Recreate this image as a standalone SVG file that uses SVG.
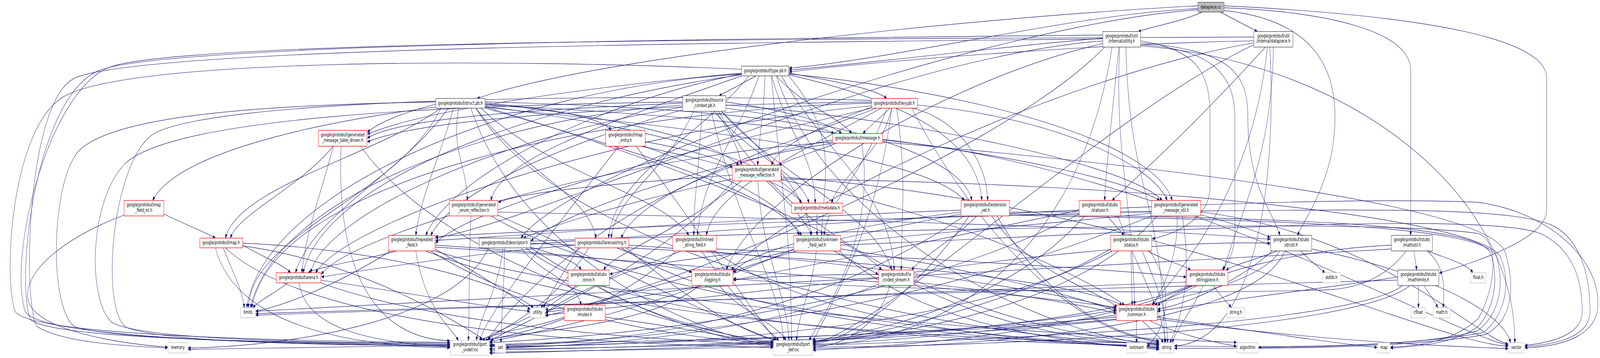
<svg xmlns="http://www.w3.org/2000/svg" width="6388" height="916" viewBox="0 0 6388 916" preserveAspectRatio="none">
<defs>
<marker id="a" viewBox="0 0 10 8" refX="10" refY="4" markerWidth="10" markerHeight="8" markerUnits="userSpaceOnUse" orient="auto"><path d="M0,0 L10,4 L0,8 z" fill="#191970" stroke="#191970" stroke-width="1"/></marker>
<style>
svg{width:100vw;height:100vh}
.e path{fill:none;stroke:#191970;stroke-width:1.15;marker-end:url(#a)}
.node rect{fill:#ffffff;stroke-width:1.3}
.r rect{stroke:#ff0000}
.b rect{stroke:#404040}
.g rect{stroke:#bfbfbf}
.cur rect{fill:#bfbfbf;stroke:#404040}
text{font-family:"DejaVu Sans","Liberation Sans",sans-serif;font-size:13px;fill:#000000;text-anchor:middle}
</style>
</defs>
<rect x="0" y="0" width="6388" height="916" fill="#ffffff"/>
<g transform="matrix(1 0 0 0.9955 0 0)">
<g id="edges" class="e">
<path d="M4800,31 C4720,55 4600,68 4545,81"/>
<path d="M4872,31 C4920,47 4970,64 5020,81"/>
<path d="M4783,22 C4300,35 3600,150 3151,175"/>
<path d="M4783,15 C4000,40 2400,140 1905,253"/>
<path d="M4783,25 C4000,60 2300,420 2080,612"/>
<path d="M4887,27 C5150,45 5330,120 5330,300 C5330,450 5230,540 5180,605"/>
<path d="M4887,20 C5300,30 5632,80 5632,180 L5632,605"/>
<path d="M4887,15 C5700,40 6175,100 6175,200 L6175,540 C6175,620 5850,680 5747,702"/>
<path d="M4403,100 C3000,110 600,120 300,200 C100,260 90,800 150,840 C250,880 500,890 669,894"/>
<path d="M4495,121 C4510,500 4640,500 4650,881"/>
<path d="M4410,121 C4000,400 2500,790 2178,802"/>
<path d="M4554,118 C5400,160 6050,500 6048,881"/>
<path d="M4470,121 C4450,400 4520,500 4530,784"/>
<path d="M4403,112 C3800,200 3000,500 2900,694"/>
<path d="M4554,115 C4850,125 4930,200 4930,300 L4930,600 C4930,650 4900,675 4880,694"/>
<path d="M4554,110 C4900,130 4982,180 4982,300 C4982,480 5080,540 5110,605"/>
<path d="M4554,105 C4800,130 4831,200 4831,300 L4831,480 C4831,560 4700,600 4600,614"/>
<path d="M4467,121 C4440,300 4420,400 4410,515"/>
<path d="M4403,98 C4000,120 3500,160 3151,180"/>
<path d="M4403,105 C3500,150 2200,560 1739,612"/>
<path d="M4440,121 C4300,700 3700,885 3246,888"/>
<path d="M4403,90 C3000,100 700,110 400,180 C150,240 60,700 120,820 C200,880 1400,880 1796,885"/>
<path d="M5070,121 C5100,500 5000,880 4689,889"/>
<path d="M5060,121 C5000,500 4700,700 4600,784"/>
<path d="M5006,110 C4200,200 3100,550 2920,694"/>
<path d="M5006,105 C4500,110 3600,150 3151,185"/>
<path d="M5052,121 C4800,300 4600,420 4440,515"/>
<path d="M5084,121 C5080,400 4950,550 4885,694"/>
<path d="M5006,115 C4400,300 3500,860 3246,882"/>
<path d="M5006,95 C3500,100 800,100 450,170 C200,220 30,650 100,800 C160,880 1400,884 1796,890"/>
<path d="M2961,190 C2000,230 1050,500 985,791"/>
<path d="M3100,195 C3300,600 4200,870 4627,886"/>
<path d="M3080,195 C3120,500 3160,600 3160,875"/>
<path d="M2961,178 C2000,150 500,150 250,250 C50,330 10,700 60,800 C120,870 1400,878 1796,880"/>
<path d="M3120,195 C3300,400 3560,500 3570,694"/>
<path d="M2961,192 C2200,260 1300,450 1210,701"/>
<path d="M2990,195 C2800,350 2450,450 2430,612"/>
<path d="M2961,188 C2400,220 1700,280 1467,345"/>
<path d="M3149,190 C3800,230 4600,350 4680,515"/>
<path d="M3030,195 C2950,350 2800,450 2785,605"/>
<path d="M3080,195 C3150,350 3250,400 3255,522"/>
<path d="M3054,195 C3050,300 3030,350 3025,425"/>
<path d="M3100,195 C3200,270 3350,300 3400,343"/>
<path d="M2961,190 C2400,260 1800,450 1700,605"/>
<path d="M3149,192 C3600,260 3900,350 3920,515"/>
<path d="M2961,195 C2500,300 2000,400 1960,515"/>
<path d="M3149,195 C3350,350 3290,450 3280,605"/>
<path d="M3149,188 C3350,210 3500,230 3540,253"/>
<path d="M3019,195 C2960,215 2920,230 2871,246"/>
<path d="M1760,278 C1600,500 1000,600 992,791"/>
<path d="M1900,278 C2300,700 4000,880 4627,884"/>
<path d="M1880,278 C2100,700 2900,880 3087,886"/>
<path d="M1740,262 C1000,270 400,300 300,400 C200,500 200,800 300,840 C500,880 1500,886 1796,886"/>
<path d="M1937,275 C2600,400 3400,600 3520,694"/>
<path d="M1790,278 C1600,450 1250,550 1180,701"/>
<path d="M1900,278 C2100,450 2350,500 2380,612"/>
<path d="M1740,268 C1600,290 1500,320 1467,340"/>
<path d="M1937,270 C3000,300 4300,400 4630,515"/>
<path d="M1920,278 C2200,450 2650,500 2750,605"/>
<path d="M1937,273 C2500,320 3100,400 3200,522"/>
<path d="M1937,268 C2400,290 2850,360 2950,425"/>
<path d="M1937,262 C2500,270 3200,300 3330,343"/>
<path d="M1810,278 C1760,400 1680,500 1660,605"/>
<path d="M1937,276 C2800,330 3700,400 3850,515"/>
<path d="M1760,278 C1500,400 950,480 900,612"/>
<path d="M1937,265 C2200,280 2400,300 2440,335"/>
<path d="M1740,275 C1200,320 700,400 610,515"/>
<path d="M1832,278 C1800,380 1860,420 1867,515"/>
<path d="M1937,278 C2600,400 3100,500 3200,605"/>
<path d="M2726,270 C2000,300 1100,500 1000,791"/>
<path d="M2870,286 C3200,700 4200,878 4627,880"/>
<path d="M2840,286 C2950,600 3100,700 3130,875"/>
<path d="M2726,262 C1800,270 700,300 500,420 C350,520 350,780 450,830 C600,880 1500,882 1796,882"/>
<path d="M2880,286 C3100,450 3500,550 3560,694"/>
<path d="M2726,275 C2000,350 1300,550 1240,701"/>
<path d="M2770,286 C2650,450 2460,500 2440,612"/>
<path d="M2726,265 C2200,280 1600,300 1467,355"/>
<path d="M2898,270 C3600,300 4500,420 4640,515"/>
<path d="M2802,286 C2790,450 2770,500 2770,605"/>
<path d="M2850,286 C3000,400 3200,450 3230,522"/>
<path d="M2860,286 C2920,350 2950,380 2960,425"/>
<path d="M2898,262 C3100,280 3300,310 3360,343"/>
<path d="M2726,282 C2200,380 1800,500 1720,605"/>
<path d="M2898,278 C3500,330 3850,420 3880,515"/>
<path d="M2880,286 C3100,420 3220,500 3240,605"/>
<path d="M3480,265 C2500,280 1100,450 1005,791"/>
<path d="M3640,278 C3900,600 4300,860 4627,878"/>
<path d="M3560,278 C3500,600 3300,800 3246,878"/>
<path d="M3480,258 C2500,240 800,250 600,350 C450,430 400,780 500,840 C650,885 1500,888 1796,888"/>
<path d="M3580,278 C3620,450 3600,550 3598,694"/>
<path d="M3480,272 C2500,330 1400,560 1260,701"/>
<path d="M3500,278 C3000,400 2550,500 2480,612"/>
<path d="M3480,262 C2600,270 1700,300 1467,365"/>
<path d="M3663,270 C4200,300 4600,420 4660,515"/>
<path d="M3520,278 C3100,420 2850,500 2820,605"/>
<path d="M3560,278 C3520,400 3350,450 3320,522"/>
<path d="M3480,275 C3250,330 3100,380 3080,425"/>
<path d="M3553,278 C3520,300 3480,320 3445,343"/>
<path d="M3480,278 C2800,380 1900,520 1739,625"/>
<path d="M3641,278 C3800,300 3940,400 3943,515"/>
<path d="M3540,278 C3450,450 3300,520 3290,605"/>
<path d="M1950,637 C1800,850 1000,894 751,894"/>
<path d="M2015,637 C2012,750 2002,800 2000,881"/>
<path d="M2100,637 C2500,860 4200,884 4627,888"/>
<path d="M2118,628 C3500,560 5200,500 5900,520 C6150,540 6380,650 6380,780 C6380,860 6250,890 6088,894"/>
<path d="M2118,620 C3500,590 5500,560 5900,600 C6000,620 5960,760 5900,820 C5800,880 5650,890 5552,892"/>
<path d="M2118,625 C3000,650 4200,700 4480,784"/>
<path d="M2080,637 C2150,700 2300,720 2320,784"/>
<path d="M2118,635 C2200,650 2300,670 2320,694"/>
<path d="M2118,637 C2500,800 2900,880 3087,890"/>
<path d="M2008,637 C1990,750 1920,800 1902,875"/>
<path d="M5193,645 C5230,670 5260,685 5290,701"/>
<path d="M5237,640 C5700,700 6000,800 6031,881"/>
<path d="M5080,645 C4950,720 4750,780 4622,795"/>
<path d="M5100,645 C5000,670 4930,680 4895,694"/>
<path d="M5130,645 C5000,850 3800,894 3246,896"/>
<path d="M5110,645 C4900,870 2500,893 1955,900"/>
<path d="M5700,645 C5800,670 5860,680 5880,701"/>
<path d="M5698,645 C5760,680 5770,720 5762,791"/>
<path d="M5555,640 C4000,700 1500,780 1021,800"/>
<path d="M5555,630 C5200,640 4800,700 4622,785"/>
<path d="M5614,645 C5550,700 5450,740 5300,745 C4500,760 3300,740 2928,716"/>
<path d="M5645,645 C5650,670 5655,680 5655,694"/>
<path d="M5663,734 C5663,755 5663,770 5663,791"/>
<path d="M5685,734 C5710,760 5730,775 5740,791"/>
<path d="M5581,720 C4000,750 1500,790 1021,806"/>
<path d="M5581,712 C5300,740 4900,770 4622,800"/>
<path d="M5630,734 C5400,850 4000,890 3246,892"/>
<path d="M5600,734 C5300,880 2500,900 1955,905"/>
<path d="M4590,824 C4700,860 4850,880 4937,890"/>
<path d="M4538,824 C4538,845 4538,860 4538,881"/>
<path d="M4620,815 C5000,850 5300,880 5498,893"/>
<path d="M4457,820 C3500,880 1200,892 751,898"/>
<path d="M4457,815 C3500,870 2300,885 2021,893"/>
<path d="M4560,824 C4600,850 4630,865 4645,881"/>
<path d="M4620,820 C5300,880 5800,890 6021,896"/>
<path d="M4457,810 C4000,850 3500,880 3246,885"/>
<path d="M4457,822 C3500,885 2400,895 1955,897"/>
<path d="M2872,734 C2950,800 3100,830 3138,875"/>
<path d="M2790,734 C2600,840 2100,850 1935,875"/>
<path d="M2310,734 C2250,760 2180,770 2160,791"/>
<path d="M2384,734 C2600,820 2950,870 3087,882"/>
<path d="M2300,734 C2150,820 2000,840 1925,875"/>
<path d="M2416,815 C2700,840 2950,870 3087,888"/>
<path d="M2253,815 C2150,840 2000,850 1915,875"/>
<path d="M4590,645 C4700,750 4650,850 4580,890"/>
<path d="M4560,645 C4640,760 4660,820 4662,881"/>
<path d="M4516,645 C4516,700 4520,740 4520,784"/>
<path d="M4582,645 C4650,670 4720,680 4754,694"/>
<path d="M4434,640 C4000,800 3400,870 3246,880"/>
<path d="M4440,645 C3800,870 2500,890 1955,890"/>
<path d="M4421,555 C4445,575 4470,590 4488,605"/>
<path d="M4330,555 C4000,800 3400,860 3246,878"/>
<path d="M4309,550 C3500,820 2300,870 1955,880"/>
<path d="M4463,555 C4550,700 4640,800 4655,881"/>
<path d="M4309,540 C3500,650 2500,780 2178,796"/>
<path d="M4738,725 C3500,760 1500,800 1021,810"/>
<path d="M4803,734 C4760,800 4700,840 4680,881"/>
<path d="M4845,734 C4870,760 4900,775 4915,791"/>
<path d="M4780,734 C4700,760 4650,770 4610,784"/>
<path d="M4760,734 C4300,860 3600,888 3246,900"/>
<path d="M4750,734 C4200,880 2500,898 1955,908"/>
<path d="M4720,555 C4760,700 4720,820 4670,881"/>
<path d="M4793,545 C5500,600 5900,870 6021,884"/>
<path d="M4700,555 C4705,650 4650,740 4600,784"/>
<path d="M4598,548 C3800,600 2700,650 2435,705"/>
<path d="M4598,545 C3500,560 2200,590 1739,608"/>
<path d="M4793,552 C4900,570 5000,590 5071,610"/>
<path d="M4620,555 C4300,800 3500,870 3246,877"/>
<path d="M4598,555 C3500,840 2400,880 1955,887"/>
<path d="M1737,640 C1900,700 2050,760 2117,796"/>
<path d="M1737,645 C2500,800 4500,870 4937,880"/>
<path d="M1560,645 C1300,750 1100,790 1021,800"/>
<path d="M1700,645 C2500,850 4200,880 4627,882"/>
<path d="M1737,630 C2200,650 2700,680 2762,700"/>
<path d="M1737,635 C2800,680 4000,750 4457,790"/>
<path d="M1583,645 C1450,670 1300,680 1230,701"/>
<path d="M1720,645 C2200,840 2900,880 3087,880"/>
<path d="M1660,645 C1700,800 1800,840 1830,875"/>
<path d="M1150,727 C1080,760 1030,775 1010,791"/>
<path d="M1281,720 C1600,750 1950,790 2115,800"/>
<path d="M1281,727 C1800,850 2800,880 3087,885"/>
<path d="M1194,727 C1220,850 1500,880 1796,892"/>
<path d="M2480,637 C3000,850 4200,880 4627,892"/>
<path d="M2310,637 C2250,700 2190,760 2170,791"/>
<path d="M2461,637 C2550,660 2700,680 2762,700"/>
<path d="M2510,630 C3200,660 4200,740 4457,795"/>
<path d="M2296,630 C1900,650 1500,690 1283,712"/>
<path d="M2500,637 C2800,800 3000,860 3100,875"/>
<path d="M2350,637 C2200,800 2000,840 1945,875"/>
<path d="M2850,645 C3300,850 4200,880 4627,895"/>
<path d="M2721,645 C2500,700 2250,760 2178,806"/>
<path d="M2860,640 C3600,660 4400,690 4736,712"/>
<path d="M2800,645 C2950,780 3050,840 3110,875"/>
<path d="M2700,645 C2400,820 2050,860 1940,875"/>
<path d="M3262,548 C3262,570 3262,585 3262,605"/>
<path d="M3350,645 C3700,850 4300,880 4627,898"/>
<path d="M3356,630 C4500,600 5900,540 6150,600 C6280,640 6317,720 6317,800 C6317,860 6200,880 6088,888"/>
<path d="M3356,640 C3800,680 4300,760 4457,800"/>
<path d="M3180,645 C3050,670 2950,690 2928,700"/>
<path d="M3329,645 C3400,670 3460,690 3506,705"/>
<path d="M3259,645 C3240,750 3190,800 3180,875"/>
<path d="M3169,640 C2600,800 2100,860 1955,878"/>
<path d="M3649,730 C4000,850 4400,880 4627,885"/>
<path d="M3508,715 C3000,750 2400,790 2178,810"/>
<path d="M3649,725 C4000,750 4300,780 4457,805"/>
<path d="M3508,705 C3300,705 3050,710 2928,720"/>
<path d="M3649,700 C4300,640 4800,620 5071,625"/>
<path d="M3553,734 C3500,850 3350,890 3246,892"/>
<path d="M3508,730 C3000,870 2300,890 1955,895"/>
<path d="M3524,365 C4500,420 5950,520 6010,650 C6060,760 6020,830 5930,860 C5600,898 5000,896 4689,895"/>
<path d="M3524,360 C4600,420 5800,860 6021,887"/>
<path d="M3324,365 C2500,400 1400,600 1283,705"/>
<path d="M3324,368 C2800,420 2200,560 2120,620"/>
<path d="M3340,368 C3250,390 3150,410 3110,425"/>
<path d="M3440,368 C3500,600 3300,800 3230,875"/>
<path d="M3324,360 C2500,450 2000,800 1950,875"/>
<path d="M3118,460 C4600,470 5900,560 5990,660 C6040,730 6000,820 5920,855 C5600,895 5000,893 4689,889"/>
<path d="M3118,455 C4600,520 5700,880 6021,890"/>
<path d="M3118,462 C3800,550 4300,700 4490,784"/>
<path d="M2924,460 C2500,520 2200,580 2090,612"/>
<path d="M2924,450 C2500,470 2100,490 1990,520"/>
<path d="M2960,465 C2700,600 2450,650 2410,694"/>
<path d="M3060,465 C3150,520 3220,570 3240,605"/>
<path d="M3026,465 C3040,650 3140,750 3150,875"/>
<path d="M2930,465 C2600,700 2100,820 1960,875"/>
<path d="M1960,555 C2600,800 4200,880 4627,893"/>
<path d="M1988,545 C3000,560 4500,580 5071,615"/>
<path d="M1988,553 C2500,700 2900,830 3095,875"/>
<path d="M1880,555 C1870,700 1875,800 1870,875"/>
<path d="M4030,553 C5000,565 5930,575 5975,660 C6010,740 5980,810 5900,850 C5700,890 5200,892 5025,893"/>
<path d="M4030,550 C5000,560 5900,570 5950,650 C5990,720 5960,800 5900,840 C5800,885 5650,890 5552,895"/>
<path d="M3980,555 C4200,800 4500,870 4627,876"/>
<path d="M3837,550 C3000,650 2400,780 2178,812"/>
<path d="M4030,545 C5200,545 6000,520 6200,580 C6320,620 6348,720 6348,800 C6348,865 6220,885 6088,891"/>
<path d="M3960,555 C4100,700 4400,750 4460,790"/>
<path d="M3837,545 C3400,580 3000,640 2926,700"/>
<path d="M3900,555 C3800,620 3680,660 3640,694"/>
<path d="M3837,540 C3000,560 2200,600 1739,618"/>
<path d="M3870,555 C3600,800 3350,880 3246,884"/>
<path d="M3850,555 C3200,840 2400,885 1955,890"/>
<path d="M1330,376 C1200,480 950,550 920,612"/>
<path d="M1331,376 C1280,500 1220,600 1205,701"/>
<path d="M1440,376 C1800,700 2800,860 3087,878"/>
<path d="M1362,376 C1340,700 1500,870 1796,876"/>
<path d="M2576,364 C2750,385 2870,405 2924,430"/>
<path d="M2560,376 C2900,420 3150,470 3200,522"/>
<path d="M2570,376 C2900,450 3150,530 3190,605"/>
<path d="M2540,376 C2800,600 3000,800 3100,875"/>
<path d="M2470,376 C2200,600 1950,800 1915,875"/>
<path d="M495,553 C300,600 110,680 110,760 C110,850 500,885 669,892"/>
<path d="M654,550 C750,580 830,600 860,612"/>
<path d="M891,637 C930,700 970,750 975,791"/>
<path d="M969,632 C1500,680 1900,860 1975,890"/>
<path d="M969,625 C1500,640 2000,720 2130,791"/>
<path d="M969,630 C1050,660 1130,680 1160,701"/>
<path d="M900,637 C1300,880 2800,888 3087,893"/>
<path d="M860,637 C950,860 1500,890 1796,894"/>
</g>
<g id="n_datapiece_cc" class="node cur"><rect x="4783" y="6" width="104" height="25"/><text x="4835" y="22">datapiece.cc</text></g>
<g id="n_utility_h" class="node b"><rect x="4403" y="81" width="151" height="40"/><text x="4478" y="96">google/protobuf/util</text><text x="4478" y="110">/internal/utility.h</text></g>
<g id="n_datapiece_h" class="node b"><rect x="5006" y="81" width="156" height="40"/><text x="5084" y="96">google/protobuf/util</text><text x="5084" y="110">/internal/datapiece.h</text></g>
<g id="n_type_pb_h" class="node b"><rect x="2961" y="170" width="188" height="25"/><text x="3055" y="186">google/protobuf/type.pb.h</text></g>
<g id="n_struct_pb_h" class="node b"><rect x="1740" y="253" width="197" height="25"/><text x="1838" y="269">google/protobuf/struct.pb.h</text></g>
<g id="n_source_context_pb_h" class="node b"><rect x="2726" y="246" width="172" height="40"/><text x="2812" y="261">google/protobuf/source</text><text x="2812" y="275">_context.pb.h</text></g>
<g id="n_any_pb_h" class="node r"><rect x="3480" y="253" width="183" height="25"/><text x="3571" y="269">google/protobuf/any.pb.h</text></g>
<g id="n_table_driven" class="node r"><rect x="1271" y="335" width="194" height="41"/><text x="1368" y="351">google/protobuf/generated</text><text x="1368" y="365">_message_table_driven.h</text></g>
<g id="n_map_entry" class="node r"><rect x="2418" y="335" width="158" height="41"/><text x="2497" y="351">google/protobuf/map</text><text x="2497" y="365">_entry.h</text></g>
<g id="n_message_h" class="node r"><rect x="3324" y="343" width="200" height="25"/><text x="3424" y="359">google/protobuf/message.h</text></g>
<g id="n_msg_reflection" class="node r"><rect x="2924" y="425" width="194" height="40"/><text x="3021" y="440">google/protobuf/generated</text><text x="3021" y="454">_message_reflection.h</text></g>
<g id="n_map_field_inl" class="node r"><rect x="495" y="515" width="159" height="40"/><text x="574" y="530">google/protobuf/map</text><text x="574" y="544">_field_inl.h</text></g>
<g id="n_enum_reflection" class="node r"><rect x="1794" y="515" width="194" height="40"/><text x="1891" y="530">google/protobuf/generated</text><text x="1891" y="544">_enum_reflection.h</text></g>
<g id="n_metadata" class="node r"><rect x="3160" y="522" width="204" height="26"/><text x="3262" y="538">google/protobuf/metadata.h</text></g>
<g id="n_extension_set" class="node r"><rect x="3837" y="515" width="193" height="40"/><text x="3933" y="530">google/protobuf/extension</text><text x="3933" y="544">_set.h</text></g>
<g id="n_statusor" class="node r"><rect x="4309" y="515" width="164" height="40"/><text x="4391" y="530">google/protobuf/stubs</text><text x="4391" y="544">/statusor.h</text></g>
<g id="n_msg_util" class="node r"><rect x="4598" y="515" width="195" height="40"/><text x="4695" y="530">google/protobuf/generated</text><text x="4695" y="544">_message_util.h</text></g>
<g id="n_map_h" class="node r"><rect x="798" y="612" width="171" height="25"/><text x="883" y="628">google/protobuf/map.h</text></g>
<g id="n_repeated_field" class="node r"><rect x="1551" y="605" width="186" height="40"/><text x="1644" y="620">google/protobuf/repeated</text><text x="1644" y="634">_field.h</text></g>
<g id="n_descriptor" class="node b"><rect x="1913" y="612" width="205" height="25"/><text x="2015" y="628">google/protobuf/descriptor.h</text></g>
<g id="n_arenastring" class="node r"><rect x="2296" y="612" width="214" height="25"/><text x="2403" y="628">google/protobuf/arenastring.h</text></g>
<g id="n_inlined" class="node r"><rect x="2686" y="605" width="174" height="40"/><text x="2773" y="620">google/protobuf/inlined</text><text x="2773" y="634">_string_field.h</text></g>
<g id="n_unknown" class="node r"><rect x="3169" y="605" width="187" height="40"/><text x="3262" y="620">google/protobuf/unknown</text><text x="3262" y="634">_field_set.h</text></g>
<g id="n_status" class="node r"><rect x="4434" y="605" width="164" height="40"/><text x="4516" y="620">google/protobuf/stubs</text><text x="4516" y="634">/status.h</text></g>
<g id="n_strutil" class="node b"><rect x="5073" y="605" width="164" height="40"/><text x="5155" y="620">google/protobuf/stubs</text><text x="5155" y="634">/strutil.h</text></g>
<g id="n_mathutil" class="node b"><rect x="5555" y="605" width="164" height="40"/><text x="5637" y="620">google/protobuf/stubs</text><text x="5637" y="634">/mathutil.h</text></g>
<g id="n_arena" class="node r"><rect x="1103" y="701" width="178" height="26"/><text x="1192" y="717">google/protobuf/arena.h</text></g>
<g id="n_once" class="node r"><rect x="2268" y="694" width="165" height="40"/><text x="2350" y="709">google/protobuf/stubs</text><text x="2350" y="723">/once.h</text></g>
<g id="n_logging" class="node r"><rect x="2762" y="694" width="164" height="40"/><text x="2844" y="709">google/protobuf/stubs</text><text x="2844" y="723">/logging.h</text></g>
<g id="n_coded_stream" class="node r"><rect x="3508" y="694" width="141" height="40"/><text x="3578" y="709">google/protobuf/io</text><text x="3578" y="723">/coded_stream.h</text></g>
<g id="n_stringpiece" class="node r"><rect x="4738" y="694" width="164" height="40"/><text x="4820" y="709">google/protobuf/stubs</text><text x="4820" y="723">/stringpiece.h</text></g>
<g id="n_stdlib_h" class="node g"><rect x="5280" y="701" width="73" height="26"/><text x="5316" y="717">stdlib.h</text></g>
<g id="n_mathlimits" class="node b"><rect x="5581" y="694" width="164" height="40"/><text x="5663" y="709">google/protobuf/stubs</text><text x="5663" y="723">/mathlimits.h</text></g>
<g id="n_float_h" class="node g"><rect x="5871" y="701" width="62" height="26"/><text x="5902" y="717">float.h</text></g>
<g id="n_limits" class="node g"><rect x="960" y="791" width="59" height="26"/><text x="990" y="807">limits</text></g>
<g id="n_utility" class="node g"><rect x="2117" y="791" width="59" height="26"/><text x="2146" y="807">utility</text></g>
<g id="n_mutex" class="node r"><rect x="2253" y="784" width="163" height="40"/><text x="2335" y="799">google/protobuf/stubs</text><text x="2335" y="813">/mutex.h</text></g>
<g id="n_common" class="node r"><rect x="4457" y="784" width="163" height="40"/><text x="4538" y="799">google/protobuf/stubs</text><text x="4538" y="813">/common.h</text></g>
<g id="n_string_h" class="node g"><rect x="4899" y="791" width="71" height="26"/><text x="4934" y="807">string.h</text></g>
<g id="n_cfloat" class="node g"><rect x="5633" y="791" width="59" height="26"/><text x="5662" y="807">cfloat</text></g>
<g id="n_math_h" class="node g"><rect x="5722" y="791" width="68" height="26"/><text x="5756" y="807">math.h</text></g>
<g id="n_memory" class="node g"><rect x="671" y="881" width="78" height="26"/><text x="710" y="897">memory</text></g>
<g id="n_port_undef" class="node g"><rect x="1798" y="875" width="155" height="38"/><text x="1876" y="889">google/protobuf/port</text><text x="1876" y="903">_undef.inc</text></g>
<g id="n_set" class="node g"><rect x="1977" y="881" width="42" height="26"/><text x="1998" y="897">set</text></g>
<g id="n_port_def" class="node g"><rect x="3089" y="875" width="155" height="38"/><text x="3166" y="889">google/protobuf/port</text><text x="3166" y="903">_def.inc</text></g>
<g id="n_iostream" class="node g"><rect x="4499" y="881" width="79" height="26"/><text x="4538" y="897">iostream</text></g>
<g id="n_string" class="node g"><rect x="4629" y="881" width="58" height="26"/><text x="4658" y="897">string</text></g>
<g id="n_algorithm" class="node g"><rect x="4939" y="881" width="84" height="26"/><text x="4981" y="897">algorithm</text></g>
<g id="n_map" class="node g"><rect x="5500" y="881" width="50" height="26"/><text x="5525" y="897">map</text></g>
<g id="n_vector" class="node g"><rect x="6023" y="881" width="63" height="26"/><text x="6054" y="897">vector</text></g>
</g>
</svg>
